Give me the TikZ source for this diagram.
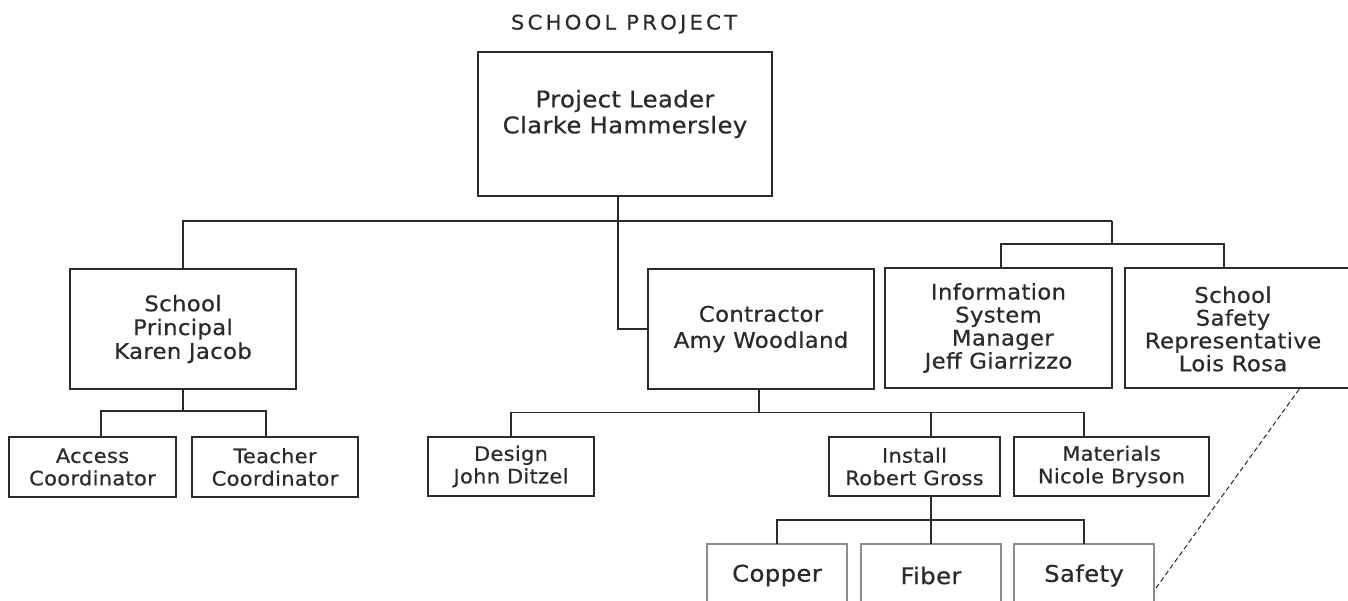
\documentclass[tikz,border=0pt]{standalone}
\usepackage{fontspec}
\setmainfont{DejaVu Sans}
\newfontfamily\lsfont[LetterSpace=1.5,FakeStretch=1.06,FakeBold=0.5]{DejaVu Sans}
\newfontfamily\titlefont[LetterSpace=16,FakeStretch=1.06,FakeBold=0.5]{DejaVu Sans}
\definecolor{ink}{HTML}{2A2A2A}
\definecolor{lightbox}{HTML}{8C8C8C}
\begin{document}
\begin{tikzpicture}[x=1pt,y=-1pt,
  box/.style={draw=ink, line width=1.4pt, rectangle, inner sep=0pt, outer sep=0pt, align=center, text=ink},
  big/.style={box, font=\lsfont\fontsize{21.5}{23.8}\selectfont},
  small/.style={box, font=\lsfont\fontsize{19.8}{22.5}\selectfont},
  leaf/.style={box, draw=lightbox, line width=1.2pt, font=\lsfont\fontsize{23}{26}\selectfont},
  conn/.style={draw=ink, line width=1.4pt},
  txt/.style={align=center, text=ink, inner sep=0pt}]
\useasboundingbox (0,0) rectangle (1348,600);

\node[txt, font=\titlefont\fontsize{20}{24}\selectfont, anchor=base] (title) at (624,29.5) {SCHOOL PROJECT};

\node[box, minimum width=294pt, minimum height=144pt] (pl) at (625,124) {};
\node[txt, font=\lsfont\fontsize{23}{26}\selectfont] (plt) at (625,114) {Project Leader\\Clarke Hammersley};

\node[big, minimum width=226pt, minimum height=120pt] (prin) at (183,329) {School\\Principal\\Karen Jacob};
\node[big, minimum width=226pt, minimum height=120pt, font=\lsfont\fontsize{21.5}{26}\selectfont] (con) at (761,329) {Contractor\\Amy Woodland};
\node[big, minimum width=227pt, minimum height=120pt, font=\lsfont\fontsize{21.5}{23}\selectfont] (info) at (998.5,328) {Information\\System\\\hspace*{0.4em}Manager\\Jeff Giarrizzo};
\node[box, minimum width=235pt, minimum height=120pt] (ssr) at (1242.5,328) {};
\node[txt, font=\lsfont\fontsize{21.5}{22.8}\selectfont] (ssrt) at (1233,329) {School\\Safety\\Representative\\Lois Rosa};

\node[small, minimum width=167pt, minimum height=60pt] (acc) at (92.5,467) {Access\\Coordinator};
\node[small, minimum width=166pt, minimum height=60pt] (tea) at (275,467) {Teacher\\Coordinator};
\node[small, minimum width=166pt, minimum height=59pt] (des) at (511,466.5) {Design\\John Ditzel};
\node[small, minimum width=171pt, minimum height=59pt] (ins) at (914.5,466.5) {Install\\Robert Gross};
\node[small, minimum width=195pt, minimum height=59pt] (mat) at (1111.5,466.5) {Materials\\Nicole Bryson};

\node[leaf, minimum width=140pt, minimum height=63pt] (cop) at (777,575.5) {Copper};
\node[leaf, minimum width=140pt, minimum height=63pt] (fib) at (931,575.5) {Fiber};
\node[leaf, minimum width=140pt, minimum height=63pt] (saf) at (1084,575.5) {Safety};

% top level connectors
\draw[conn] ([xshift=-7]pl.south) |- (con.west);
\coordinate (j1) at (1112,221);
\draw[conn] (prin.north) |- (j1);
\draw[conn] (j1) -- ++(0,23) coordinate (j2);
\draw[conn] ([xshift=2.5]info.north) |- (j2) -| ([xshift=-18.5]ssr.north);

% principal children
\draw[conn] (prin.south) -- ++(0,22) coordinate (j3);
\draw[conn] ([xshift=8.5]acc.north) |- (j3) -| ([xshift=-9]tea.north);

% contractor children
\draw[conn] ([xshift=-2]con.south) -- ++(0,23.5) coordinate (j4);
\draw[conn] (des.north) |- (j4) -| ([xshift=-27.5]mat.north);
\draw[conn] ([xshift=16.5]ins.north) -- ++(0,-25);

% install children
\draw[conn] (fib.north |- ins.south) -- (fib.north);
\draw[conn] (cop.north) -- ++(0,-24) -| (saf.north);

% dashed link
\draw[conn, line width=1pt, dash pattern=on 5pt off 3pt] ([shift={(2,12.5)}]saf.east) -- ([xshift=57.5]ssr.south);
\end{tikzpicture}
\end{document}
